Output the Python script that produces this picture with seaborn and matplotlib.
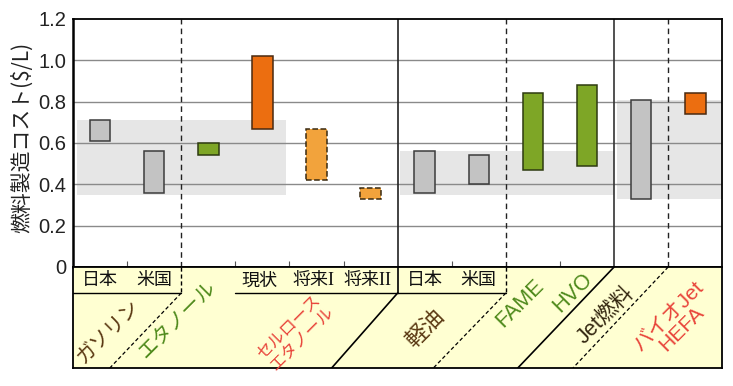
import numpy as np
import pandas as pd
import matplotlib.pyplot as plt
import seaborn as sns

sns.set_theme(style="white")
plt.rcParams['font.family'] = ['Noto Sans CJK JP', 'DejaVu Sans']

# cost range per category ($/L)
labels = ['日本', '米国', 'エタノール', '現状', '将来I', '将来II',
          '日本', '米国', 'FAME', 'HVO', 'Jet燃料', 'バイオJet HEFA']
cost_low = [0.61, 0.36, 0.54, 0.67, 0.42, 0.33, 0.36, 0.40, 0.47, 0.49, 0.33, 0.74]
cost_high = [0.71, 0.56, 0.60, 1.02, 0.67, 0.38, 0.56, 0.54, 0.84, 0.88, 0.81, 0.84]
kind = ['fossil', 'fossil', 'bio', 'cell', 'future', 'future',
        'fossil', 'fossil', 'bio', 'bio', 'fossil', 'cell']

# grey reference bands (fossil fuel range)
band_low = [0.35, 0.35, 0.33]
band_high = [0.71, 0.56, 0.81]

df = pd.DataFrame({'label': labels, 'low': cost_low, 'high': cost_high, 'kind': kind})
df['pos'] = np.arange(len(df)) + 0.5

styles = {
    'fossil': dict(color='#c3c3c3', edgecolor='#3c3c3c', linestyle='-'),
    'bio': dict(color='#7ea626', edgecolor='#2e3a10', linestyle='-'),
    'cell': dict(color='#ec6e10', edgecolor='#4a2a10', linestyle='-'),
    'future': dict(color='#f2a33c', edgecolor='#3a2a10', linestyle='--'),
}

fig = plt.figure(figsize=(7.33, 3.86), dpi=100)
ax = fig.add_axes([0.0996, 0.3083, 0.8858, 0.6425])
pax = fig.add_axes([0.0996, 0.0466, 0.8858, 0.2617])

# bands
band_span = [(0.08, 3.94), (6.05, 10.0), (10.06, 12.0)]
for (x0, x1), lo, hi in zip(band_span, band_low, band_high):
    ax.fill_between([x0, x1], lo, hi, color='#e6e6e6', lw=0, zorder=0.5)

for yv in [0.2, 0.4, 0.6, 0.8, 1.0]:
    ax.axhline(yv, color='#8a8a8a', lw=1, zorder=1)

for _, r in df.iterrows():
    st = styles[r['kind']]
    ax.bar(r['pos'], r['high'] - r['low'], bottom=r['low'], width=0.38,
           color=st['color'], edgecolor=st['edgecolor'], linestyle=st['linestyle'],
           linewidth=1.1, zorder=3)

ax.axvline(2, color='#222222', lw=1, ls=(0, (4, 3)), zorder=2)
ax.axvline(6, color='#222222', lw=1.2, zorder=2)
ax.axvline(8, color='#222222', lw=1, ls=(0, (4, 3)), zorder=2)
ax.axvline(10, color='#333333', lw=1.2, zorder=2)
ax.axvline(11, color='#222222', lw=1, ls=(0, (4, 3)), zorder=2)

ax.set_xlim(0, 12)
ax.set_ylim(0, 1.2)
ax.set_yticks([0, 0.2, 0.4, 0.6, 0.8, 1.0, 1.2])
ax.set_yticklabels(['0', '0.2', '0.4', '0.6', '0.8', '1.0', '1.2'],
                   family='Liberation Sans', fontsize=14.5, color='#222222')
ax.set_xticks([1, 3, 4, 5, 7, 9])
ax.set_xticklabels([])
ax.tick_params(axis='x', direction='in', length=4, width=0.8, color='#555555', bottom=True)
ax.tick_params(axis='y', length=0, pad=5)
for s in ax.spines.values():
    s.set_color('black')
    s.set_linewidth(1.3)
ax.spines['left'].set_linewidth(1.8)

fig.text(0.03, 0.645, '燃料製造コスト($/L)', rotation=90, ha='center', va='center',
         fontsize=15, color='#222222')

# label panel below the axis
pax.set_facecolor('#ffffd2')
pax.set_xlim(0, 12)
pax.set_ylim(101, 0)
pax.set_xticks([])
pax.set_yticks([])
for s in pax.spines.values():
    s.set_color('black')
    s.set_linewidth(1.3)

dash = (0, (3, 2))
pax.plot([0, 2], [26, 26], color='black', lw=1)
pax.plot([2, 2], [0, 26], color='black', lw=1, ls=dash)
pax.plot([2, 0.68], [26, 101], color='black', lw=0.9, ls=dash)
pax.plot([3, 6], [26, 26], color='black', lw=1)
pax.plot([6, 6], [0, 26], color='black', lw=1.2)
pax.plot([6, 4.78], [26, 101], color='black', lw=1.2)
pax.plot([6, 8], [26, 26], color='black', lw=1)
pax.plot([8, 8], [0, 26], color='black', lw=1, ls=dash)
pax.plot([8, 6.66], [26, 101], color='black', lw=0.9, ls=dash)
pax.plot([10, 8.22], [0, 101], color='black', lw=1.2)
pax.plot([11, 9.24], [0, 101], color='black', lw=0.9, ls=dash)

top_fs = 13
mixed = ['Liberation Serif', 'Noto Sans CJK JP']
for x, t in [(0.5, '日本'), (1.5, '米国'), (3.45, '現状'), (4.45, '将来I'),
             (5.45, '将来II'), (6.5, '日本'), (7.5, '米国')]:
    pax.text(x, 14, t, ha='center', va='center', fontsize=top_fs, color='#111111',
             family=mixed)

brown = '#5a3812'
green = '#4f8a1c'
red = '#e8443a'
pax.text(0.65, 65, 'ガソリン', rotation=45, ha='center', va='center', fontsize=14.5, color=brown)
pax.text(1.92, 53, 'エタノール', rotation=45, ha='center', va='center', fontsize=14.5, color=green)
pax.text(4.12, 66, 'セルロース\nエタノール', rotation=45, ha='center', va='center',
         fontsize=12, color=red, linespacing=1.05)
pax.text(6.51, 61, '軽油', rotation=45, ha='center', va='center', fontsize=16, color=brown)
pax.text(8.27, 36, 'FAME', rotation=45, ha='center', va='center', fontsize=15.5,
         color=green, family='Liberation Sans')
pax.text(9.23, 26, 'HVO', rotation=45, ha='center', va='center', fontsize=15.5,
         color=green, family='Liberation Sans')
pax.text(9.84, 48, 'Jet燃料', rotation=45, ha='center', va='center', fontsize=15.5,
         color='#33260f', family=['Liberation Sans', 'Noto Sans CJK JP'])
pax.text(11.13, 55, 'バイオJet\nHEFA', rotation=45, ha='center', va='center', fontsize=15,
         color=red, linespacing=1.0, family=['Liberation Sans', 'Noto Sans CJK JP'])

fig.savefig('out.png', dpi=100)
